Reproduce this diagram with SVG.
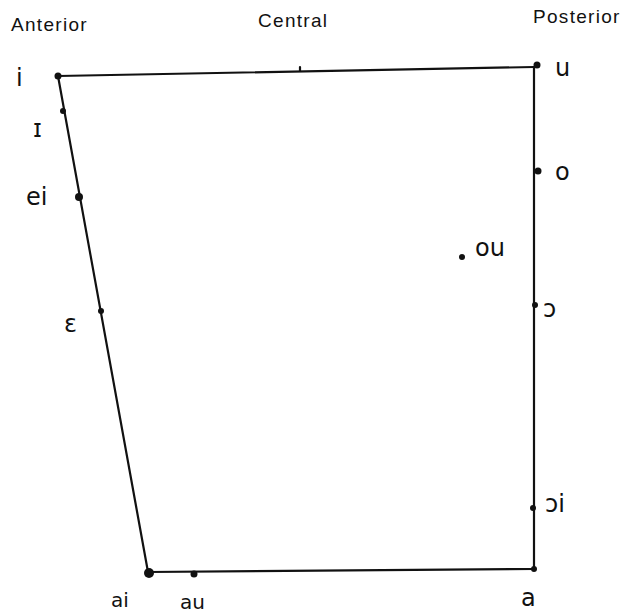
<svg xmlns="http://www.w3.org/2000/svg" width="638" height="614" viewBox="0 0 638 614">
<style>
.hdr{font-family:"Liberation Sans",Arial,sans-serif;font-size:19px;letter-spacing:1.3px;fill:#111}
.lbl{font-family:"DejaVu Sans","Noto Sans",sans-serif;font-size:24px;fill:#111}
.sm{font-size:20px}
.edge{stroke:#111;stroke-width:2.2;fill:none;stroke-linecap:round}
.dot{fill:#111}
</style>
<rect width="638" height="614" fill="#fff"/>
<text class="hdr" x="11" y="31">Anterior</text>
<text class="hdr" x="258" y="27">Central</text>
<text class="hdr" x="533" y="23">Posterior</text>
<g id="connectors">
<path class="edge" d="M58,76 L534,67"/>
<path class="edge" d="M58,76 L148,572"/>
<path class="edge" d="M148,572 L534,569"/>
<path class="edge" d="M534,67 L534,569"/>
<path class="edge" d="M300,67 L300,71"/>
</g>
<g id="n-i"><circle class="dot" cx="58" cy="76" r="3.5"/><text class="lbl" x="16" y="86">i</text></g>
<g id="n-I"><circle class="dot" cx="63" cy="111" r="3"/><text class="lbl" x="33" y="137">ɪ</text></g>
<g id="n-ei"><circle class="dot" cx="79" cy="197" r="4"/><text class="lbl" x="26" y="205">ei</text></g>
<g id="n-E"><circle class="dot" cx="101" cy="311" r="3"/><text class="lbl" x="64" y="332">ɛ</text></g>
<g id="n-ai"><circle class="dot" cx="149" cy="573" r="5"/><text class="lbl sm" x="111" y="607">ai</text></g>
<g id="n-au"><circle class="dot" cx="194" cy="574" r="3.5"/><text class="lbl sm" x="180" y="609">au</text></g>
<g id="n-a"><circle class="dot" cx="534" cy="569" r="3"/><text class="lbl" x="521" y="606">a</text></g>
<g id="n-oi"><circle class="dot" cx="533" cy="508" r="3"/><text class="lbl" x="545" y="512">ɔi</text></g>
<g id="n-O"><circle class="dot" cx="535" cy="305" r="3"/><text class="lbl" x="543" y="317">ɔ</text></g>
<g id="n-ou"><circle class="dot" cx="462" cy="257" r="3"/><text class="lbl" x="475" y="256">ou</text></g>
<g id="n-o"><circle class="dot" cx="538" cy="171" r="3.5"/><text class="lbl" x="555" y="180">o</text></g>
<g id="n-u"><circle class="dot" cx="537" cy="65" r="3.5"/><text class="lbl" x="555" y="76">u</text></g>
</svg>
